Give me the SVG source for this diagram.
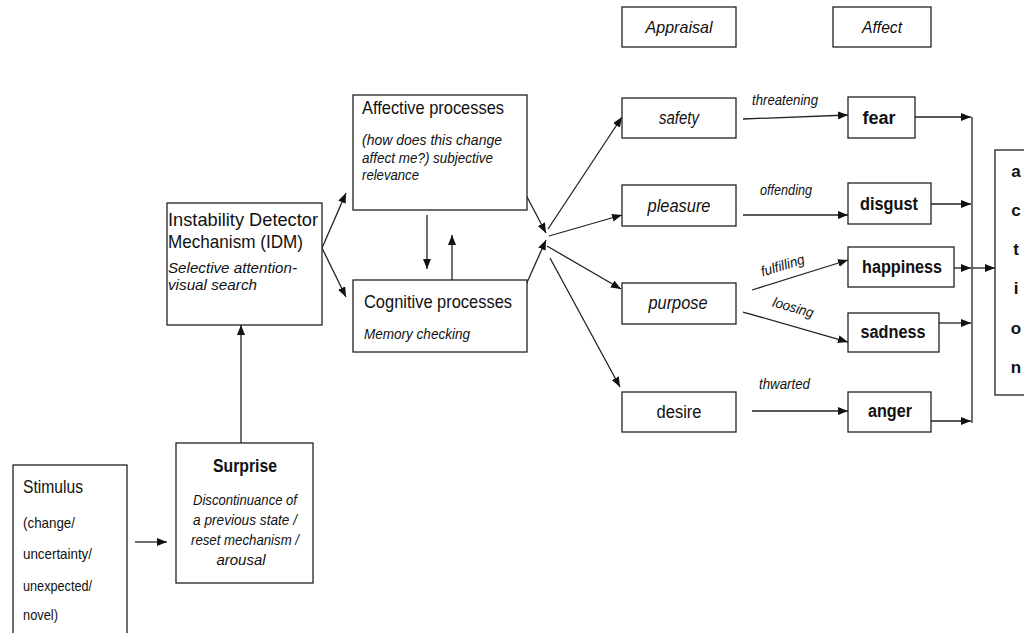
<svg xmlns="http://www.w3.org/2000/svg" width="1024" height="633" viewBox="0 0 1024 633">
<defs>
<marker id="arr" markerUnits="userSpaceOnUse" markerWidth="10" markerHeight="8" refX="10" refY="4" orient="auto">
<path d="M0,0 L10,4 L0,8 z" fill="#111"/>
</marker>
<style>
.box{fill:#fff;stroke:#222;stroke-width:1.3}
.t{font-family:"Liberation Sans",Arial,sans-serif;fill:#111}
.it{font-style:italic}
.b{font-weight:bold}
.c{text-anchor:middle}
.ln{fill:none;stroke:#222;stroke-width:1.3}
.la{fill:none;stroke:#222;stroke-width:1.3;marker-end:url(#arr)}
</style>
</defs>
<rect width="1024" height="633" fill="#fff"/>

<g id="connectors">
<line class="la" x1="135" y1="542" x2="167" y2="542"/>
<line class="la" x1="241" y1="443" x2="241" y2="325"/>
<line class="la" x1="322" y1="248" x2="346" y2="193"/>
<line class="la" x1="322" y1="248" x2="346" y2="297"/>
<line class="la" x1="427" y1="215" x2="427" y2="269"/>
<line class="la" x1="452" y1="280" x2="452" y2="235"/>
<line class="la" x1="525" y1="193" x2="546" y2="233"/>
<line class="la" x1="525" y1="287" x2="546" y2="240"/>
<line class="la" x1="548" y1="229" x2="622" y2="117"/>
<line class="la" x1="549" y1="236" x2="622" y2="215"/>
<line class="la" x1="547" y1="246" x2="621" y2="289"/>
<line class="la" x1="550" y1="258" x2="620" y2="387"/>
<line class="la" x1="743" y1="119" x2="848" y2="115"/>
<line class="la" x1="743" y1="215" x2="848" y2="215"/>
<line class="la" x1="752" y1="290" x2="848" y2="260"/>
<line class="la" x1="743" y1="312" x2="848" y2="342"/>
<line class="la" x1="752" y1="411" x2="848" y2="411"/>
<line class="la" x1="915" y1="117" x2="971" y2="117"/>
<line class="la" x1="931" y1="204" x2="971" y2="204"/>
<line class="la" x1="954" y1="268" x2="971" y2="268"/>
<line class="la" x1="939" y1="323" x2="971" y2="323"/>
<line class="la" x1="931" y1="421" x2="971" y2="421"/>
<line class="ln" x1="972" y1="117" x2="972" y2="423"/>
<line class="la" x1="972" y1="268" x2="995" y2="268"/>
<text class="t it" x="752" y="105" font-size="14" textLength="66" lengthAdjust="spacingAndGlyphs">threatening</text>
<text class="t it" x="760" y="195" font-size="14" textLength="52" lengthAdjust="spacingAndGlyphs">offending</text>
<text class="t it c" font-size="14" transform="translate(784,270) rotate(-17)" textLength="45" lengthAdjust="spacingAndGlyphs">fulfilling</text>
<text class="t it c" font-size="14" transform="translate(792,312) rotate(16)" textLength="42" lengthAdjust="spacingAndGlyphs">loosing</text>
<text class="t it" x="759" y="389" font-size="14" textLength="51" lengthAdjust="spacingAndGlyphs">thwarted</text>
</g>

<g id="stimulus">
<rect class="box" x="13" y="465" width="114" height="190"/>
<text class="t" x="23" y="493" font-size="18" textLength="60" lengthAdjust="spacingAndGlyphs">Stimulus</text>
<text class="t" x="23" y="528" font-size="15" textLength="52" lengthAdjust="spacingAndGlyphs">(change/</text>
<text class="t" x="23" y="559" font-size="15" textLength="69" lengthAdjust="spacingAndGlyphs">uncertainty/</text>
<text class="t" x="23" y="591" font-size="15" textLength="69" lengthAdjust="spacingAndGlyphs">unexpected/</text>
<text class="t" x="23" y="620" font-size="15" textLength="35" lengthAdjust="spacingAndGlyphs">novel)</text>
</g>

<g id="surprise">
<rect class="box" x="176" y="443" width="137" height="140"/>
<text class="t b c" x="245" y="472" font-size="18" textLength="64" lengthAdjust="spacingAndGlyphs">Surprise</text>
<text class="t it c" x="245" y="505" font-size="15" textLength="104" lengthAdjust="spacingAndGlyphs">Discontinuance of</text>
<text class="t it c" x="245" y="525" font-size="15" textLength="104" lengthAdjust="spacingAndGlyphs">a previous state /</text>
<text class="t it c" x="245" y="545" font-size="15" textLength="108" lengthAdjust="spacingAndGlyphs">reset mechanism /</text>
<text class="t it c" x="241" y="565" font-size="15">arousal</text>
</g>

<g id="idm">
<rect class="box" x="167" y="203" width="155" height="122"/>
<text class="t" x="168" y="226" font-size="19" textLength="150" lengthAdjust="spacingAndGlyphs">Instability Detector</text>
<text class="t" x="168" y="248" font-size="19" textLength="135" lengthAdjust="spacingAndGlyphs">Mechanism (IDM)</text>
<text class="t it" x="168" y="273" font-size="15" textLength="129" lengthAdjust="spacingAndGlyphs">Selective attention-</text>
<text class="t it" x="168" y="290" font-size="15" textLength="89" lengthAdjust="spacingAndGlyphs">visual search</text>
</g>

<g id="affective">
<rect class="box" x="353" y="95" width="174" height="115"/>
<text class="t" x="362" y="114" font-size="19" textLength="142" lengthAdjust="spacingAndGlyphs">Affective processes</text>
<text class="t it" x="362" y="145" font-size="15" textLength="140" lengthAdjust="spacingAndGlyphs">(how does this change</text>
<text class="t it" x="362" y="163" font-size="15" textLength="131" lengthAdjust="spacingAndGlyphs">affect me?) subjective</text>
<text class="t it" x="362" y="180" font-size="15" textLength="57" lengthAdjust="spacingAndGlyphs">relevance</text>
</g>

<g id="cognitive">
<rect class="box" x="353" y="280" width="174" height="72"/>
<text class="t" x="364" y="308" font-size="19" textLength="148" lengthAdjust="spacingAndGlyphs">Cognitive processes</text>
<text class="t it" x="364" y="339" font-size="15" textLength="106" lengthAdjust="spacingAndGlyphs">Memory checking</text>
</g>

<g id="appraisal">
<rect class="box" x="622" y="7" width="114" height="40"/>
<text class="t it c" x="679" y="33" font-size="17" textLength="67" lengthAdjust="spacingAndGlyphs">Appraisal</text>
</g>
<g id="safety">
<rect class="box" x="622" y="98" width="114" height="40"/>
<text class="t it c" x="679" y="124" font-size="18" textLength="40" lengthAdjust="spacingAndGlyphs">safety</text>
</g>
<g id="pleasure">
<rect class="box" x="622" y="185" width="114" height="41"/>
<text class="t it c" x="679" y="212" font-size="18" textLength="63" lengthAdjust="spacingAndGlyphs">pleasure</text>
</g>
<g id="purpose">
<rect class="box" x="622" y="283" width="114" height="41"/>
<text class="t it c" x="678" y="309" font-size="18" textLength="59" lengthAdjust="spacingAndGlyphs">purpose</text>
</g>
<g id="desire">
<rect class="box" x="622" y="392" width="114" height="40"/>
<text class="t c" x="679" y="418" font-size="18" textLength="45" lengthAdjust="spacingAndGlyphs">desire</text>
</g>

<g id="affect">
<rect class="box" x="833" y="7" width="98" height="40"/>
<text class="t it c" x="882" y="33" font-size="17" textLength="40" lengthAdjust="spacingAndGlyphs">Affect</text>
</g>
<g id="fear">
<rect class="box" x="848" y="97" width="67" height="41"/>
<text class="t b c" x="879" y="124" font-size="18">fear</text>
</g>
<g id="disgust">
<rect class="box" x="848" y="183" width="83" height="41"/>
<text class="t b c" x="889" y="210" font-size="18" textLength="58" lengthAdjust="spacingAndGlyphs">disgust</text>
</g>
<g id="happiness">
<rect class="box" x="848" y="247" width="106" height="40"/>
<text class="t b c" x="902" y="273" font-size="18" textLength="80" lengthAdjust="spacingAndGlyphs">happiness</text>
</g>
<g id="sadness">
<rect class="box" x="848" y="313" width="91" height="39"/>
<text class="t b c" x="893" y="338" font-size="18" textLength="65" lengthAdjust="spacingAndGlyphs">sadness</text>
</g>
<g id="anger">
<rect class="box" x="848" y="392" width="83" height="40"/>
<text class="t b c" x="890" y="417" font-size="18" textLength="44" lengthAdjust="spacingAndGlyphs">anger</text>
</g>

<g id="action">
<rect class="box" x="995" y="150" width="45" height="245"/>
<text class="t b c" x="1016" y="177" font-size="17">a</text>
<text class="t b c" x="1016" y="216" font-size="17">c</text>
<text class="t b c" x="1016" y="255" font-size="17">t</text>
<text class="t b c" x="1016" y="294" font-size="17">i</text>
<text class="t b c" x="1016" y="334" font-size="17">o</text>
<text class="t b c" x="1016" y="373" font-size="17">n</text>
</g>
</svg>
